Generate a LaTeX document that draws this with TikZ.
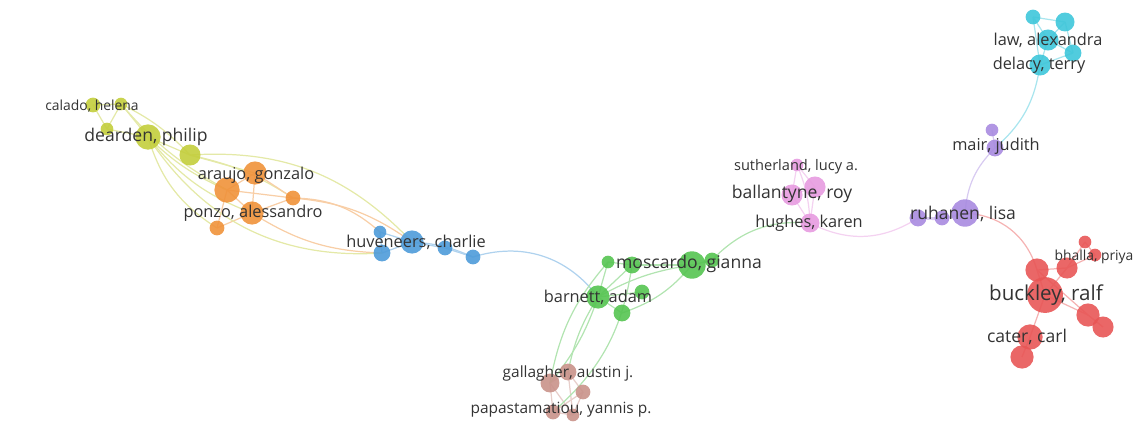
\documentclass[tikz,border=0pt]{standalone}
\usepackage{fontspec}
\setmainfont{Open Sans}
\usetikzlibrary{backgrounds}

\definecolor{cyel}{HTML}{C3CE3C}
\definecolor{cora}{HTML}{F0923A}
\definecolor{cblu}{HTML}{4E9BD9}
\definecolor{cgrn}{HTML}{55C451}
\definecolor{cbrn}{HTML}{C9928A}
\definecolor{cpnk}{HTML}{E79BE0}
\definecolor{cpur}{HTML}{A88BE0}
\definecolor{ccya}{HTML}{3EC6DA}
\definecolor{cred}{HTML}{E85656}

\tikzset{
  vos/.style={circle, inner sep=0pt, minimum size=#1*0.6pt, fill opacity=0.9},
  lbl/.style={text=black!80, inner sep=0pt, font=\fontsize{#1}{#1}\selectfont},
  link/.style={draw=#1!45, line width=0.7pt},
}

\begin{document}
\begin{tikzpicture}[x=0.02cm, y=-0.02cm]
  \useasboundingbox (0,0) rectangle (1135,423);

  % yellow
  \node[vos=14, fill=cyel] (calado) at (93,105) {};
  \node[vos=12, fill=cyel] (yb) at (121,104) {};
  \node[vos=12, fill=cyel] (yc) at (107,129) {};
  \node[vos=24, fill=cyel] (dearden) at (148,137) {};
  \node[vos=20, fill=cyel] (ye) at (190,155) {};
  % orange
  \node[vos=22, fill=cora] (araujo) at (255,173) {};
  \node[vos=24, fill=cora] (ob) at (227,190) {};
  \node[vos=22, fill=cora] (ponzo) at (252,213) {};
  \node[vos=14, fill=cora] (od) at (293,198) {};
  \node[vos=14, fill=cora] (oe) at (217,228) {};
  % blue
  \node[vos=12, fill=cblu] (ba) at (380,232) {};
  \node[vos=16, fill=cblu] (bb) at (382,253) {};
  \node[vos=22, fill=cblu] (huveneers) at (412,242) {};
  \node[vos=14, fill=cblu] (bd) at (445,248) {};
  \node[vos=14, fill=cblu] (be) at (473,257) {};
  % green
  \node[vos=12, fill=cgrn] (ga) at (608,262) {};
  \node[vos=16, fill=cgrn] (gb) at (632,265) {};
  \node[vos=26, fill=cgrn] (moscardo) at (692,265) {};
  \node[vos=14, fill=cgrn] (gd) at (712,260) {};
  \node[vos=22, fill=cgrn] (barnett) at (598,297) {};
  \node[vos=14, fill=cgrn] (gf) at (642,292) {};
  \node[vos=16, fill=cgrn] (gg) at (622,313) {};
  % brown
  \node[vos=16, fill=cbrn] (gallagher) at (568,372) {};
  \node[vos=18, fill=cbrn] (bb2) at (550,383) {};
  \node[vos=14, fill=cbrn] (bc) at (583,392) {};
  \node[vos=14, fill=cbrn] (papastamatiou) at (553,412) {};
  \node[vos=12, fill=cbrn] (be2) at (573,415) {};
  % pink
  \node[vos=12, fill=cpnk] (sutherland) at (797,165) {};
  \node[vos=20, fill=cpnk] (ballantyne) at (792,195) {};
  \node[vos=20, fill=cpnk] (pc) at (815,187) {};
  \node[vos=18, fill=cpnk] (hughes) at (810,223) {};
  % purple
  \node[vos=12, fill=cpur] (ua) at (992,130) {};
  \node[vos=16, fill=cpur] (mair) at (995,148) {};
  \node[vos=26, fill=cpur] (ruhanen) at (965,213) {};
  \node[vos=14, fill=cpur] (ud) at (942,218) {};
  \node[vos=16, fill=cpur] (ue) at (918,218) {};
  % cyan
  \node[vos=14, fill=ccya] (ca) at (1033,17) {};
  \node[vos=18, fill=ccya] (cb) at (1065,22) {};
  \node[vos=20, fill=ccya] (law) at (1048,40) {};
  \node[vos=16, fill=ccya] (cd) at (1073,53) {};
  \node[vos=20, fill=ccya] (delacy) at (1040,65) {};
  % red
  \node[vos=12, fill=cred] (ra) at (1085,242) {};
  \node[vos=12, fill=cred] (bhalla) at (1095,255) {};
  \node[vos=20, fill=cred] (rc) at (1067,268) {};
  \node[vos=22, fill=cred] (rd) at (1037,270) {};
  \node[vos=34, fill=cred] (buckley) at (1045,295) {};
  \node[vos=22, fill=cred] (rf) at (1088,315) {};
  \node[vos=20, fill=cred] (rg) at (1103,327) {};
  \node[vos=24, fill=cred] (cater) at (1030,337) {};
  \node[vos=22, fill=cred] (ri) at (1022,357) {};

  \begin{scope}[on background layer]
    % links inside clusters
    \draw[link=cyel] (calado.center) -- (yb.center);
    \draw[link=cyel] (calado.center) -- (yc.center);
    \draw[link=cyel] (yb.center) -- (yc.center);
    \draw[link=cyel] (yb.center) -- (dearden.center);
    \draw[link=cyel] (yc.center) -- (dearden.center);
    \draw[link=cyel] (dearden.center) -- (ye.center);
    \draw[link=cyel] (yb.center) to[bend left=10] (ye.center);
    \draw[link=cyel] (dearden.center) to[bend right=10] (ob.center);
    \draw[link=cyel] (dearden.center) to[bend right=15] (ponzo.center);
    \draw[link=cyel] (dearden.center) to[bend right=20] (oe.center);
    \draw[link=cyel] (ye.center) -- (araujo.center);
    \draw[link=cyel] (ye.center) to[bend left=10] (od.center);
    \draw[link=cyel] (yb.center) to[bend right=10] (ob.center);
    \draw[link=cora] (araujo.center) -- (ob.center);
    \draw[link=cora] (araujo.center) -- (ponzo.center);
    \draw[link=cora] (ob.center) -- (ponzo.center);
    \draw[link=cora] (ponzo.center) -- (od.center);
    \draw[link=cora] (araujo.center) -- (od.center);
    \draw[link=cora] (ob.center) -- (oe.center);
    \draw[link=cora] (ponzo.center) -- (oe.center);
    \draw[link=cora] (ob.center) -- (od.center);
    \draw[link=cblu] (ba.center) -- (huveneers.center);
    \draw[link=cblu] (bb.center) -- (huveneers.center);
    \draw[link=cblu] (ba.center) -- (bb.center);
    \draw[link=cblu] (huveneers.center) -- (bd.center);
    \draw[link=cblu] (bd.center) -- (be.center);
    \draw[link=cblu] (huveneers.center) to[bend left=10] (be.center);
    \draw[link=cgrn] (ga.center) -- (barnett.center);
    \draw[link=cgrn] (gb.center) -- (barnett.center);
    \draw[link=cgrn] (ga.center) -- (gb.center);
    \draw[link=cgrn] (gb.center) -- (moscardo.center);
    \draw[link=cgrn] (moscardo.center) -- (gd.center);
    \draw[link=cgrn] (moscardo.center) to[bend right=10] (barnett.center);
    \draw[link=cgrn] (gf.center) -- (barnett.center);
    \draw[link=cgrn] (gg.center) -- (barnett.center);
    \draw[link=cgrn] (moscardo.center) to[bend left=15] (gg.center);
    \draw[link=cbrn] (gallagher.center) -- (bb2.center);
    \draw[link=cbrn] (gallagher.center) -- (bc.center);
    \draw[link=cbrn] (bb2.center) -- (papastamatiou.center);
    \draw[link=cbrn] (bc.center) -- (be2.center);
    \draw[link=cbrn] (gallagher.center) -- (be2.center);
    \draw[link=cbrn] (bb2.center) -- (be2.center);
    \draw[link=cbrn] (papastamatiou.center) -- (be2.center);
    \draw[link=cbrn] (bc.center) -- (papastamatiou.center);
    \draw[link=cpnk] (sutherland.center) -- (ballantyne.center);
    \draw[link=cpnk] (sutherland.center) -- (pc.center);
    \draw[link=cpnk] (ballantyne.center) -- (pc.center);
    \draw[link=cpnk] (ballantyne.center) -- (hughes.center);
    \draw[link=cpnk] (pc.center) -- (hughes.center);
    \draw[link=cpnk] (sutherland.center) to[bend left=10] (hughes.center);
    \draw[link=cpur] (ue.center) -- (ud.center);
    \draw[link=cpur] (ud.center) -- (ruhanen.center);
    \draw[link=cpur] (ue.center) to[bend right=15] (ruhanen.center);
    \draw[link=cpur] (ua.center) -- (mair.center);
    \draw[link=ccya] (ca.center) -- (cb.center);
    \draw[link=ccya] (ca.center) -- (law.center);
    \draw[link=ccya] (cb.center) -- (law.center);
    \draw[link=ccya] (law.center) -- (cd.center);
    \draw[link=ccya] (cb.center) -- (cd.center);
    \draw[link=ccya] (law.center) -- (delacy.center);
    \draw[link=ccya] (cd.center) -- (delacy.center);
    \draw[link=ccya] (ca.center) -- (delacy.center);
    \draw[link=cred] (ra.center) -- (rc.center);
    \draw[link=cred] (ra.center) -- (bhalla.center);
    \draw[link=cred] (bhalla.center) -- (rc.center);
    \draw[link=cred] (rc.center) -- (rd.center);
    \draw[link=cred] (rd.center) -- (buckley.center);
    \draw[link=cred] (rc.center) -- (buckley.center);
    \draw[link=cred] (rd.center) -- (rf.center);
    \draw[link=cred] (buckley.center) -- (rf.center);
    \draw[link=cred] (rf.center) -- (rg.center);
    \draw[link=cred] (buckley.center) -- (cater.center);
    \draw[link=cred] (cater.center) -- (ri.center);
    % links between clusters
    \draw[link=cora] (od.center) to[bend left=20] (ba.center);
    \draw[link=cora] (od.center) to[bend left=15] (huveneers.center);
    \draw[link=cora] (ponzo.center) to[bend right=15] (bb.center);
    \draw[link=cyel] (ye.center) to[bend left=25] (huveneers.center);
    \draw[link=cyel] (dearden.center) to[bend right=30] (bb.center);
    \draw[link=cblu] (be.center) to[bend left=35] (barnett.center);
    \draw[link=cgrn] (barnett.center) to[bend right=10] (gallagher.center);
    \draw[link=cgrn] (barnett.center) to[bend left=10] (bb2.center);
    \draw[link=cgrn] (ga.center) to[bend right=15] (bb2.center);
    \draw[link=cgrn] (gb.center) to[bend left=20] (papastamatiou.center);
    \draw[link=cgrn] (gd.center) to[bend left=25] (hughes.center);
    \draw[link=cpnk] (hughes.center) to[bend right=30] (ue.center);
    \draw[link=cpur] (ruhanen.center) to[bend left=20] (mair.center);
    \draw[link=ccya] (mair.center) to[bend right=20] (delacy.center);
    \draw[link=cred] (ruhanen.center) to[bend left=35] (rd.center);
  \end{scope}

  % labels
  \node[lbl=7.9] (l-calado) at (92,106) {calado, helena};
  \node[lbl=10] (l-dearden) at (146,137) {dearden, philip};
  \node[lbl=9.3] (l-araujo) at (256,175) {araujo, gonzalo};
  \node[lbl=9.3] (l-ponzo) at (253,213) {ponzo, alessandro};
  \node[lbl=9.3] (l-huveneers) at (416,242) {huveneers, charlie};
  \node[lbl=10] (l-moscardo) at (689,264) {moscardo, gianna};
  \node[lbl=9.3] (l-barnett) at (598,297) {barnett, adam};
  \node[lbl=8.8] (l-gallagher) at (568,373) {gallagher, austin j.};
  \node[lbl=8.8] (l-papastamatiou) at (561,410) {papastamatiou, yannis p.};
  \node[lbl=8.3] (l-sutherland) at (796,167) {sutherland, lucy a.};
  \node[lbl=10] (l-ballantyne) at (792,194) {ballantyne, roy};
  \node[lbl=9.3] (l-hughes) at (809,223) {hughes, karen};
  \node[lbl=10] (l-ruhanen) at (963,214) {ruhanen, lisa};
  \node[lbl=9.3] (l-mair) at (996,146) {mair, judith};
  \node[lbl=9.3] (l-law) at (1048,40) {law, alexandra};
  \node[lbl=9.3] (l-delacy) at (1039,65) {delacy, terry};
  \node[lbl=7.9] (l-bhalla) at (1094,257) {bhalla, priya};
  \node[lbl=11.7] (l-buckley) at (1046,295) {buckley, ralf};
  \node[lbl=10] (l-cater) at (1027,337) {cater, carl};
\end{tikzpicture}
\end{document}
